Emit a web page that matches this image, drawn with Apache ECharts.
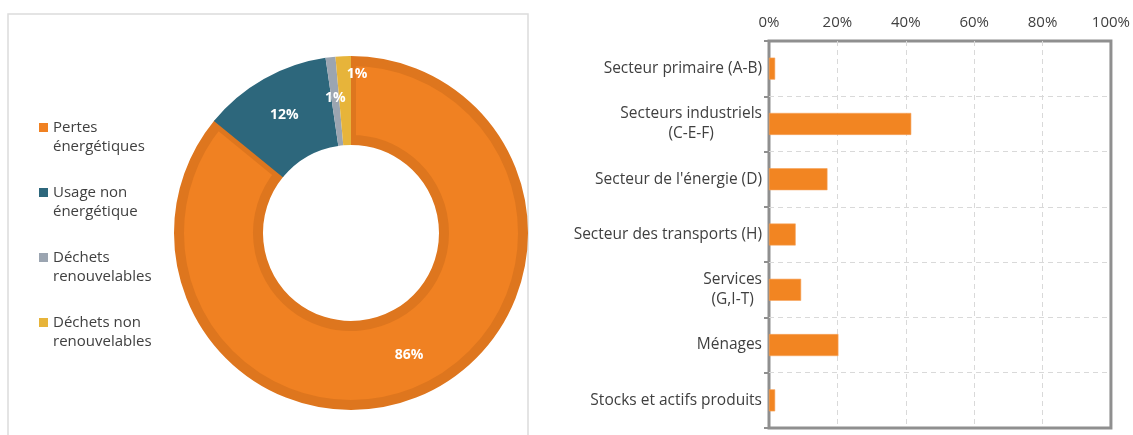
<!DOCTYPE html>
<html>
<head>
<meta charset="utf-8">
<script src="https://cdn.jsdelivr.net/npm/echarts@6/dist/echarts.min.js"></script>
<style>
  html, body { margin: 0; padding: 0; background: #fff; }
  #chart { width: 1133px; height: 435px; }
</style>
</head>
<body>
<div id="chart"></div>
<script>
// donut: destination of the energy
const pieNames = ['Pertes énergétiques', 'Usage non énergétique', 'Déchets renouvelables', 'Déchets non renouvelables']
const pieLegend = ['Pertes\nénergétiques', 'Usage non\nénergétique', 'Déchets\nrenouvelables', 'Déchets non\nrenouvelables']
const pieValues = [85.9, 11.8, 0.9, 1.4]

// bars: share by sector
const barCategories = [
  'Secteur primaire (A-B)',
  'Secteurs industriels\n(C-E-F)',
  "Secteur de l'énergie (D)",
  'Secteur des transports (H)',
  'Services\n(G,I-T)',
  'Ménages',
  'Stocks et actifs produits'
]
const barValues = [1.8, 41.6, 17.1, 7.8, 9.4, 20.3, 1.8]
const xTicks = [0, 20, 40, 60, 80, 100]

const pieColors = ['#F08122', '#2D677C', '#9BA5B1', '#E7B43A']
const orangeDark = '#DE761E'
const FONT = 'Open Sans'
const textGrey = '#404040'
const axisGrey = '#8f8f8f'

const chart = echarts.init(document.getElementById('chart'), null, { renderer: 'canvas' })

// bottom layer: the big slice with its darker rim
const baseData = pieValues.map((v, i) => ({
  name: pieNames[i],
  value: v,
  itemStyle: i === 0
    ? { color: pieColors[0], borderColor: orangeDark, borderWidth: 10 }
    : { color: 'rgba(0,0,0,0)' },
  label: { show: i === 0 }
}))

// top layer: the thin slices
const topData = pieValues.map((v, i) => ({
  name: pieNames[i],
  value: v,
  itemStyle: { color: i === 0 ? 'rgba(0,0,0,0)' : pieColors[i] },
  label: { show: i !== 0 }
}))

const pieLabel = {
  position: 'inside',
  // the last small slice has its label pushed up and right, as in the source
  formatter: (p) => (p.dataIndex === 3 ? '{y|' : '{n|') + Math.round(p.value) + '%}',
  rich: {
    n: { color: '#fff', fontFamily: FONT, fontWeight: 'bold', fontSize: 14 },
    y: { color: '#fff', fontFamily: FONT, fontWeight: 'bold', fontSize: 14, padding: [0, 0, 48, 24] }
  }
}

const dashed = { color: '#d9d9d9', type: [5, 4], width: 1 }

chart.setOption({
  animation: false,
  graphic: [{
    type: 'rect',
    shape: { x: 8, y: 14, width: 520, height: 440 },
    style: { fill: 'none', stroke: '#dcdcdc', lineWidth: 1.5 },
    silent: true
  }],
  legend: {
    orient: 'vertical',
    left: 39,
    top: 99,
    padding: 0,
    itemWidth: 9,
    itemHeight: 9,
    itemGap: 8,
    icon: 'rect',
    selectedMode: false,
    itemStyle: { borderWidth: 0 },
    data: pieNames.map((n, i) => ({ name: n, itemStyle: { color: pieColors[i], borderWidth: 0 } })),
    // leading blank line keeps the icon level with the first text line
    formatter: (name) => '\n' + pieLegend[pieNames.indexOf(name)],
    textStyle: {
      color: textGrey,
      fontFamily: FONT,
      fontSize: 15,
      lineHeight: 19
    }
  },
  grid: {
    left: 769,
    right: 20,
    top: 41,
    bottom: 7,
    show: true,
    borderColor: axisGrey,
    borderWidth: 3
  },
  xAxis: {
    type: 'value',
    position: 'top',
    min: xTicks[0],
    max: xTicks[xTicks.length - 1],
    interval: 20,
    axisLine: { show: false },
    axisTick: { show: false },
    splitLine: { show: true, showMinLine: false, showMaxLine: false, lineStyle: dashed },
    axisLabel: {
      formatter: '{value}%',
      color: textGrey,
      fontFamily: FONT,
      fontSize: 15,
      margin: 11
    }
  },
  yAxis: {
    type: 'category',
    inverse: true,
    data: barCategories,
    axisLine: { show: false },
    axisTick: { show: true, length: 5, lineStyle: { color: axisGrey, width: 2 } },
    splitLine: { show: true, showMinLine: false, showMaxLine: false, lineStyle: dashed },
    axisLabel: {
      margin: 7,
      formatter: (v) => v.split('\n').map((s) => '{c|' + s + '}').join('\n'),
      rich: {
        c: {
          align: 'center',
          color: textGrey,
          fontFamily: FONT,
          fontSize: 15.5,
          lineHeight: 20
        }
      }
    }
  },
  series: [
    {
      type: 'pie',
      z: 1,
      center: [351, 233],
      radius: [93, 172],
      startAngle: 90,
      silent: true,
      avoidLabelOverlap: false,
      labelLine: { show: false },
      emphasis: { disabled: true },
      label: pieLabel,
      data: baseData
    },
    {
      type: 'pie',
      z: 2,
      center: [351, 233],
      radius: [88, 177],
      startAngle: 90,
      silent: true,
      avoidLabelOverlap: false,
      labelLine: { show: false },
      emphasis: { disabled: true },
      label: pieLabel,
      data: topData
    },
    {
      type: 'bar',
      data: barValues,
      barWidth: 22,
      itemStyle: { color: '#F28522', borderColor: '#F6A25A', borderWidth: 0.6 },
      silent: true
    }
  ]
})

window.addEventListener('resize', () => {
  chart.resize()
})
</script>
</body>
</html>
